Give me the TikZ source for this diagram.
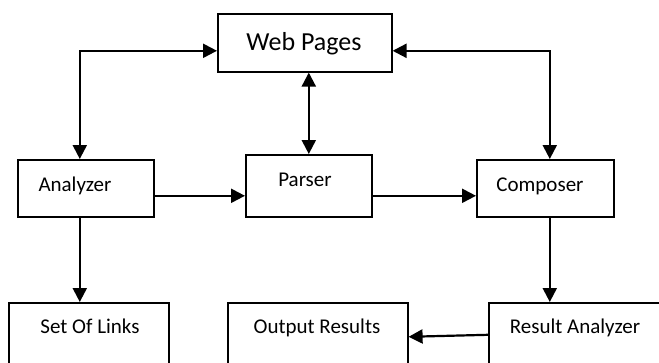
\documentclass[tikz,border=0pt]{standalone}
\usepackage{fontspec}
\setmainfont{Carlito}
\usetikzlibrary{arrows.meta}
\begin{document}
\begin{tikzpicture}[x=1pt,y=1pt,
  box/.style={draw,line width=1.6pt,rectangle,inner sep=0pt,anchor=north west},
  lbl/.style={anchor=base,inner sep=0pt,font=\fontsize{21}{25}\selectfont},
  conn/.style={line width=2.2pt,-{Triangle[length=14pt,width=14pt]}},
  bconn/.style={line width=2.2pt,{Triangle[length=14pt,width=14pt]}-{Triangle[length=14pt,width=14pt]}}]
\useasboundingbox (0,0) rectangle (659,-362);
\clip (0,0) rectangle (659,-362);
% boxes
\node[box,minimum width=174pt,minimum height=58pt] (web) at (217,-13) {};
\node[box,minimum width=136pt,minimum height=57pt] (an) at (17,-159) {};
\node[box,minimum width=126pt,minimum height=62pt] (pa) at (245,-154) {};
\node[box,minimum width=137pt,minimum height=57pt] (co) at (476,-159) {};
\node[box,minimum width=160pt,minimum height=80pt] (sl) at (8,-302) {};
\node[box,minimum width=180pt,minimum height=80pt] (or) at (227,-302) {};
\node[box,minimum width=200pt,minimum height=80pt] (ra) at (488,-302) {};
% labels
\node[lbl,font=\fontsize{26}{30}\selectfont] (tweb) at (304,-50) {Web Pages};
\node[lbl] (tan) at (75,-191) {Analyzer};
\node[lbl] (tpa) at (305,-186) {Parser};
\node[lbl] (tco) at (540,-191) {Composer};
\node[lbl] (tsl) at (90,-333) {Set Of Links};
\node[lbl] (tor) at (317,-333) {Output Results};
\node[lbl] (tra) at (575,-333) {Result Analyzer};
% connectors
\draw[bconn] ([xshift=-6pt]an.north) |- ([yshift=-8pt]web.west);
\draw[bconn] ([yshift=-8pt]web.east) -| ([xshift=4.5pt]co.north);
\draw[bconn] (pa.north) -- (pa.north |- web.south);
\draw[conn] ([yshift=-7.5pt]an.east) -- ([yshift=-7.5pt]an.east -| pa.west);
\draw[conn] ([yshift=-7.5pt]an.east -| pa.east) -- ([yshift=-7.5pt]an.east -| co.west);
\draw[conn] ([xshift=4.5pt]co.south) -- ([xshift=4.5pt]co.south |- ra.north);
\draw[conn] ([xshift=-6pt]an.south) -- ([xshift=-6pt]an.south |- sl.north);
\draw[conn] ([yshift=8pt]ra.west) -- ([yshift=6pt]or.east);
\end{tikzpicture}
\end{document}
